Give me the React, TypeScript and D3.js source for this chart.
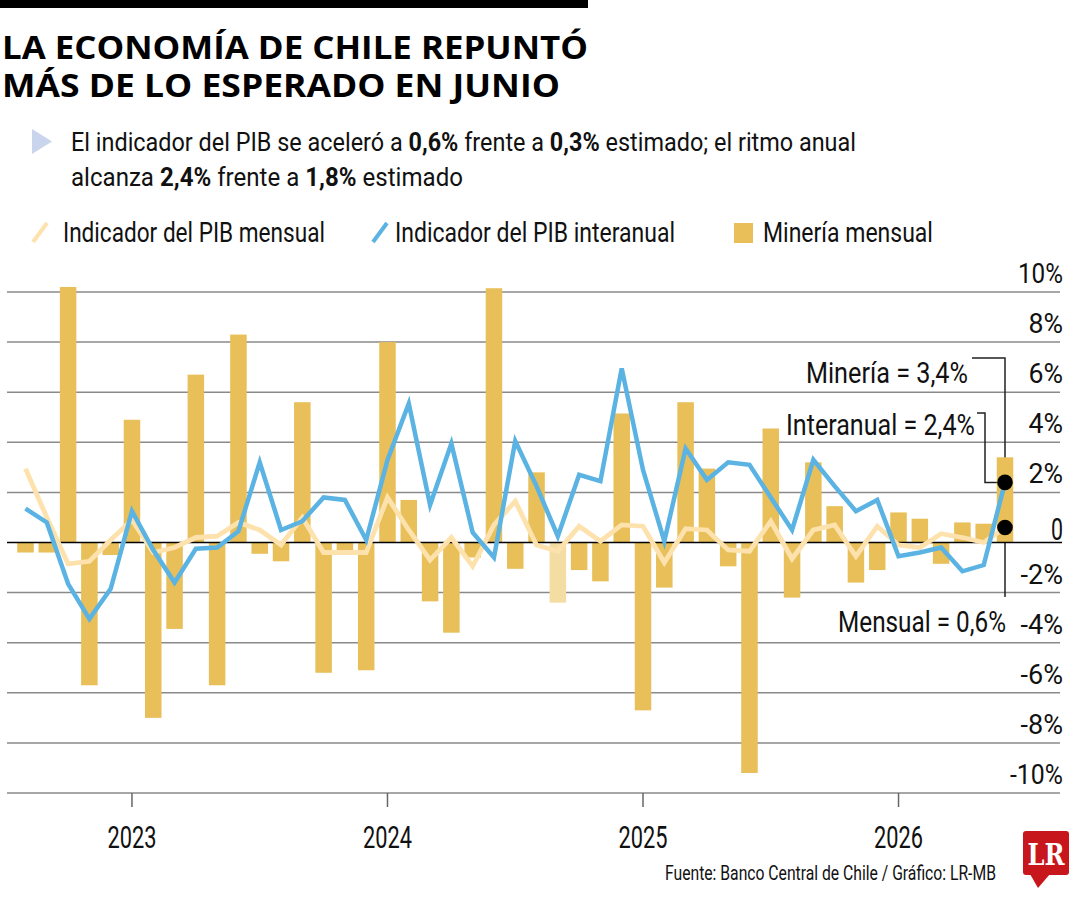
import React, { useLayoutEffect, useRef, useState, useEffect } from "react";
import * as d3 from "d3";

// ---------- DATA ----------
const months = [
  "2022-08", "2022-09", "2022-10", "2022-11", "2022-12",
  "2023-01", "2023-02", "2023-03", "2023-04", "2023-05", "2023-06",
  "2023-07", "2023-08", "2023-09", "2023-10", "2023-11", "2023-12",
  "2024-01", "2024-02", "2024-03", "2024-04", "2024-05", "2024-06",
  "2024-07", "2024-08", "2024-09", "2024-10", "2024-11", "2024-12",
  "2025-01", "2025-02", "2025-03", "2025-04", "2025-05", "2025-06",
  "2025-07", "2025-08", "2025-09", "2025-10", "2025-11", "2025-12",
  "2026-01", "2026-02", "2026-03", "2026-04", "2026-05", "2026-06",
];

// Minería mensual (%)
const mineria = [
  -0.4, -0.4, 10.2, -5.7, -0.5,
  4.9, -7.0, -3.45, 6.7, -5.7, 8.3,
  -0.45, -0.75, 5.6, -5.2, -0.35, -5.1,
  8.0, 1.7, -2.35, -3.6, -0.6, 10.15,
  -1.05, 2.8, -2.4, -1.1, -1.55, 5.15,
  -6.7, -1.8, 5.6, 2.95, -0.95, -9.2,
  4.55, -2.2, 3.2, 1.45, -1.6, -1.1,
  1.2, 0.95, -0.85, 0.8, 0.75, 3.4,
];

// Indicador del PIB interanual (%)
const pibInteranual = [
  1.35, 0.8, -1.65, -3.05, -1.85,
  1.25, -0.3, -1.6, -0.25, -0.2, 0.45,
  3.2, 0.5, 0.85, 1.8, 1.7, 0.1,
  3.3, 5.55, 1.5, 3.95, 0.4, -0.6,
  4.05, 2.25, 0.25, 2.7, 2.45, 6.95,
  2.9, 0.05, 3.75, 2.5, 3.2, 3.1,
  1.8, 0.5, 3.3, 2.25, 1.25, 1.7,
  -0.55, -0.4, -0.2, -1.15, -0.9, 2.4,
];

// Indicador del PIB mensual (%)
const pibMensual = [
  2.95, 1.0, -0.85, -0.75, 0.1,
  0.9, -0.4, -0.2, 0.2, 0.25, 0.8,
  0.5, -0.1, 1.0, -0.4, -0.4, -0.4,
  1.8, 0.5, -0.7, 0.2, -0.95, 0.7,
  1.65, -0.1, -0.35, 0.65, 0.05, 0.7,
  0.65, -0.8, 0.55, 0.5, -0.3, -0.35,
  0.85, -0.65, 0.5, 0.7, -0.55, 0.65,
  -0.1, -0.2, 0.35, 0.2, 0.0, 0.6,
];

const faintMonths = ["2024-09"];

const yTicks = [10, 8, 6, 4, 2, 0, -2, -4, -6, -8, -10];
const yTickLabels = ["10%", "8%", "6%", "4%", "2%", "0", "-2%", "-4%", "-6%", "-8%", "-10%"];
const yearTicks = ["2023-01", "2024-01", "2025-01", "2026-01"];
const yearLabels = ["2023", "2024", "2025", "2026"];

const legendLabels = ["Indicador del PIB mensual", "Indicador del PIB interanual", "Minería mensual"];
const lastLabels = ["Minería = 3,4%", "Interanual = 2,4%", "Mensual = 0,6%"];

// ---------- STYLE ----------
const FONT = "Roboto, 'Noto Sans', sans-serif";
const TITLE_FONT = "'Open Sans', 'Noto Sans', sans-serif";
const GOLD = "#e8bf58";
const GOLD_FAINT = "#f4dda3";
const BLUE = "#5ab3e2";
const BEIGE = "#fde2ad";
const GRID = "#8a8a8a";
const INK = "#111";

type TP = {
  x: number; y: number; size: number; w?: number; anchor?: string;
  weight?: number; fill?: string; family?: string; children: React.ReactNode;
};

// Text squeezed horizontally to a target width (condensed look)
const T = ({ x, y, size, w, anchor = "start", weight = 400, fill = INK, family = FONT, children }: TP) => {
  const ref = useRef<SVGTextElement>(null);
  const [s, setS] = useState(1);
  const measure = () => {
    if (!ref.current || !w) return;
    const len = ref.current.getComputedTextLength();
    if (len > 0) setS(w / len);
  };
  useLayoutEffect(measure, [w, size, family, weight]);
  useEffect(() => {
    const f = (document as any).fonts;
    if (f && f.ready) f.ready.then(measure);
  }, []);
  return (
    <text
      ref={ref}
      transform={`translate(${x},${y}) scale(${s},1)`}
      fontSize={size}
      fontWeight={weight}
      fill={fill}
      fontFamily={family}
      textAnchor={anchor as any}
    >
      {children}
    </text>
  );
};

const charW = (s: string) =>
  s.split("").reduce((a, c) => a + (c === "%" ? 24 : c === "-" ? 8 : 10.5), 0);

export default function App() {
  const x = d3.scalePoint<string>().domain(months).range([25.5, 1005]);
  const y = d3.scaleLinear().domain([-10, 10]).range([793, 292]);
  const barW = 16.5;
  const y0 = y(0);

  const line = d3
    .line<number>()
    .x((_, i) => x(months[i]) as number)
    .y((d) => y(d));

  const last = months.length - 1;
  const lx = x(months[last]) as number;

  return (
    <svg
      width={1080}
      height={900}
      style={{ position: "absolute", left: 0, top: 0, background: "#fff" }}
    >
      {/* top bar */}
      <rect x={0} y={0} width={588} height={8} fill="#000" />

      {/* title */}
      <T x={2} y={59} size={33} w={586} weight={700} family={TITLE_FONT} fill="#000">
        LA ECONOMÍA DE CHILE REPUNTÓ
      </T>
      <T x={2} y={97} size={33} w={558} weight={700} family={TITLE_FONT} fill="#000">
        MÁS DE LO ESPERADO EN JUNIO
      </T>

      {/* subtitle */}
      <polygon points="32,129 32,154 52,141.5" fill="#c9d5ec" />
      <T x={71} y={151} size={26} w={785}>
        El indicador del PIB se aceleró a <tspan fontWeight={700}>0,6%</tspan> frente a{" "}
        <tspan fontWeight={700}>0,3%</tspan> estimado; el ritmo anual
      </T>
      <T x={71} y={186} size={26} w={392}>
        alcanza <tspan fontWeight={700}>2,4%</tspan> frente a <tspan fontWeight={700}>1,8%</tspan> estimado
      </T>

      {/* legend */}
      <line x1={33} y1={242} x2={47} y2={223} stroke={BEIGE} strokeWidth={4} />
      <T x={63} y={242} size={28} w={262}>{legendLabels[0]}</T>
      <line x1={373} y1={242} x2={387} y2={223} stroke={BLUE} strokeWidth={4} />
      <T x={395} y={242} size={28} w={280}>{legendLabels[1]}</T>
      <rect x={734} y={223} width={19} height={20} fill={GOLD} />
      <T x={763} y={242} size={28} w={170}>{legendLabels[2]}</T>

      {/* gridlines */}
      {yTicks.map((t) =>
        t === 0 ? null : (
          <line key={t} x1={7} x2={1060} y1={y(t)} y2={y(t)} stroke={GRID} strokeWidth={1.5} />
        )
      )}

      {/* x ticks */}
      {yearTicks.map((m, i) => (
        <g key={m}>
          <line x1={x(m)} x2={x(m)} y1={793} y2={807} stroke="#666" strokeWidth={1.5} />
          <T x={x(m) as number} y={848} size={31} w={49} anchor="middle">{yearLabels[i]}</T>
        </g>
      ))}

      {/* y labels */}
      {yTicks.map((t, i) => (
        <T
          key={t}
          x={1063}
          y={t === 0 ? y(t) - 3 : y(t) - 9}
          size={t === 0 ? 31 : 28}
          w={t === 0 ? 12 : charW(yTickLabels[i])}
          anchor="end"
        >
          {yTickLabels[i]}
        </T>
      ))}

      {/* leader lines (behind bars) */}
      <polyline points={`972,358 ${lx},358 ${lx},597`} fill="none" stroke="#222" strokeWidth={1.5} />
      <polyline
        points={`977,413 985,413 985,${y(pibInteranual[last])} ${lx},${y(pibInteranual[last])}`}
        fill="none"
        stroke="#222"
        strokeWidth={1.5}
      />

      {/* bars */}
      {mineria.map((v, i) => (
        <rect
          key={months[i]}
          x={(x(months[i]) as number) - barW / 2}
          y={Math.min(y(v), y0)}
          width={barW}
          height={Math.abs(y(v) - y0)}
          fill={faintMonths.includes(months[i]) ? GOLD_FAINT : GOLD}
        />
      ))}

      {/* zero line */}
      <line x1={7} x2={1062} y1={y0} y2={y0} stroke="#000" strokeWidth={1.5} />

      {/* lines */}
      <path d={line(pibMensual) || ""} fill="none" stroke={BEIGE} strokeWidth={4.8} />
      <path d={line(pibInteranual) || ""} fill="none" stroke={BLUE} strokeWidth={4.5} />

      {/* end dots */}
      <circle cx={lx} cy={y(pibInteranual[last])} r={7.8} fill="#000" />
      <circle cx={lx} cy={y(pibMensual[last])} r={7.8} fill="#000" />

      {/* annotations */}
      <T x={968} y={383} size={30} w={162} anchor="end">{lastLabels[0]}</T>
      <T x={975} y={435} size={30} w={189} anchor="end">{lastLabels[1]}</T>
      <T x={1006} y={632} size={30} w={168} anchor="end">{lastLabels[2]}</T>

      {/* footer */}
      <T x={665} y={880} size={21} w={331}>Fuente: Banco Central de Chile / Gráfico: LR-MB</T>

      {/* logo */}
      <rect x={1023} y={831} width={46} height={44} rx={3} fill="#c8161d" />
      <polygon points="1030,874 1050,874 1038,888" fill="#c8161d" />
      <T x={1046} y={865} size={30} w={37} anchor="middle" weight={700} fill="#fff" family="'DejaVu Serif', 'Liberation Serif', serif">
        LR
      </T>
    </svg>
  );
}
